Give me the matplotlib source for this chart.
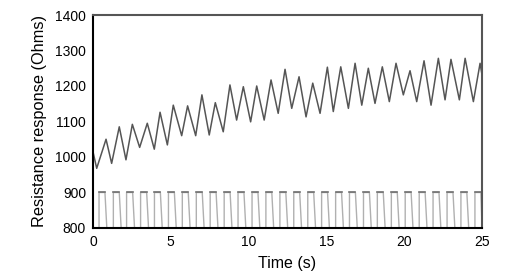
import matplotlib
matplotlib.use("Agg")
import matplotlib.pyplot as plt

plt.rcParams['font.family'] = ['Liberation Sans', 'DejaVu Sans']

# Response: start, alternating trough/peak times and values, end
start_t, start_v = 0.0, 1015
trough_t = [0.24, 1.2, 2.12, 3.0, 3.94, 4.78, 5.7, 6.6, 7.47, 8.37, 9.23, 10.13, 11.0, 11.9,
            12.77, 13.69, 14.59, 15.44, 16.41, 17.27, 18.12, 19.04, 19.94, 20.8, 21.72, 22.62, 23.54, 24.44]
trough_v = [968, 982, 992, 1027, 1022, 1034, 1060, 1060, 1062, 1071, 1104, 1099, 1104, 1123,
            1137, 1113, 1123, 1128, 1137, 1146, 1151, 1156, 1175, 1156, 1146, 1161, 1161, 1156]
peak_t = [0.84, 1.69, 2.53, 3.49, 4.31, 5.16, 6.08, 7.0, 7.86, 8.8, 9.66, 10.52, 11.44, 12.34,
          13.24, 14.12, 15.06, 15.92, 16.84, 17.69, 18.59, 19.47, 20.37, 21.27, 22.19, 23.0, 23.91, 24.87]
peak_v = [1050, 1085, 1092, 1095, 1126, 1146, 1144, 1175, 1153, 1203, 1198, 1200, 1217, 1247,
          1226, 1208, 1253, 1254, 1264, 1250, 1254, 1264, 1243, 1271, 1278, 1275, 1278, 1264]
end_t, end_v = 25.0, 1230

# Stimulus pulses
rise_t = [0.39, 1.31, 2.16, 3.06, 3.95, 4.85, 5.74, 6.64, 7.53, 8.43, 9.32, 10.22, 11.11, 12.01,
          12.9, 13.8, 14.69, 15.59, 16.48, 17.38, 18.27, 19.17, 20.06, 20.96, 21.85, 22.75, 23.64, 24.54]
fall_t = [0.77, 1.69, 2.55, 3.45, 4.33, 5.23, 6.12, 7.02, 7.91, 8.81, 9.70, 10.60, 11.49, 12.39,
          13.28, 14.18, 15.07, 15.97, 16.86, 17.76, 18.65, 19.55, 20.44, 21.34, 22.23, 23.13, 24.02, 24.92]
low_v, high_v = 800, 900
fall_dur = 0.12

rt, rv = [start_t], [start_v]
for a, b, c, d in zip(trough_t, trough_v, peak_t, peak_v):
    rt += [a, c]
    rv += [b, d]
rt.append(end_t)
rv.append(end_v)

st, sv = [0.0], [low_v]
for r, f in zip(rise_t, fall_t):
    st += [r, r, f, min(f + fall_dur, 25.0)]
    sv += [low_v, high_v, high_v, low_v]
st.append(25.0)
sv.append(low_v)

fig = plt.figure(figsize=(5.08, 2.78), dpi=100)
ax = fig.add_axes([0.183, 0.180, 0.766, 0.766])
ax.plot(st, sv, color='#b0b0b0', lw=1.0)
for r, f in zip(rise_t, fall_t):
    ax.plot([r, f], [high_v, high_v], color='#707070', lw=1.2)
ax.plot(rt, rv, color='#555555', lw=1.1)

ax.set_xlim(0, 25)
ax.set_ylim(800, 1400)
ax.set_xticks([0, 5, 10, 15, 20, 25])
ax.set_yticks([800, 900, 1000, 1100, 1200, 1300, 1400])
ax.tick_params(length=0, labelsize=10, pad=5)
ax.set_xlabel('Time (s)', fontsize=11.5, labelpad=5)
ax.set_ylabel('Resistance response (Ohms)', fontsize=11.8, labelpad=6)
for s in ['left', 'bottom']:
    ax.spines[s].set_color('black')
    ax.spines[s].set_linewidth(1.5)
for s in ['top', 'right']:
    ax.spines[s].set_color('#555555')
    ax.spines[s].set_linewidth(1.5)

fig.savefig('out.png', dpi=100)
